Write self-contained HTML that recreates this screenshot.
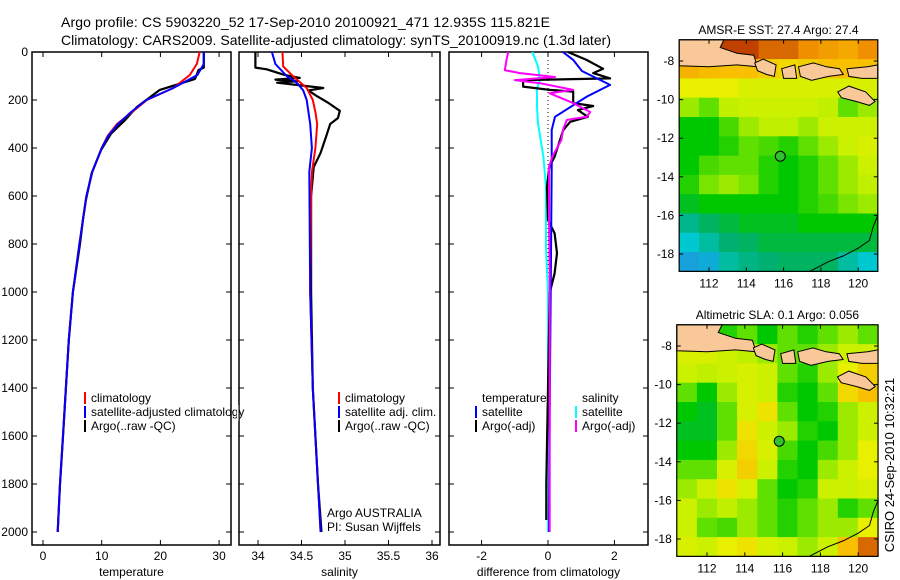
<!DOCTYPE html>
<html><head><meta charset="utf-8"><style>
html,body{margin:0;padding:0;background:#fff;}
svg{display:block;font-family:"Liberation Sans",sans-serif;}
</style></head><body>
<svg id="fig" width="900" height="580" viewBox="0 0 900 580">
<text x="61" y="27" font-size="14" textLength="489">Argo profile: CS 5903220_52 17-Sep-2010 20100921_471 12.935S 115.821E</text>
<text x="61" y="45" font-size="14" textLength="550">Climatology: CARS2009. Satellite-adjusted climatology: synTS_20100919.nc (1.3d later)</text>
<g id="g"></g>
<text transform="translate(894,465) rotate(-90)" text-anchor="middle" font-size="13">CSIRO 24-Sep-2010 10:32:21</text>
</svg>
<script>
// ---------- data ----------
const depthTicks=[0,200,400,600,800,1000,1200,1400,1600,1800,2000];
const tempTicks=[0,10,20,30];
const salTicks=[34,34.5,35,35.5,36];
const salTickLabels=["34","34.5","35","35.5","36"];
const diffTicks=[-2,0,2];
const tArgoDepth=[0,65,75,112,158,229,283,340,408,504,617,700,800,1000,1200,1400,1600,1800,2000];
const tArgo=[27.4,27.4,26.5,25.9,19.9,16,14,11.6,9.9,8.3,7.3,6.8,6.3,5.1,4.4,3.9,3.4,2.9,2.5];
const tClimDepth=[0,50,96,150,200,250,300,350,400,500,600,700,800,1000,1200,1400,1600,1800,2000];
const tClim=[26.7,26.2,25,22.2,17.7,15.2,12.6,11,10,8.4,7.4,6.8,6.2,5.1,4.4,3.9,3.4,2.9,2.5];
const tSat=[27.4,27.4,26.3,22.2,17.6,15,12.8,11.1,10,8.4,7.4,6.8,6.2,5.1,4.4,3.9,3.4,2.9,2.5];
const sArgoDepth=[0,65,72,95,108,115,122,128,150,160,180,210,245,275,300,355,420,480,600,1000,1400,1800,2000];
const sArgo=[33.97,33.97,34.1,34.3,34.48,34.2,34.45,34.22,34.75,34.58,34.66,34.8,34.94,34.92,34.83,34.78,34.72,34.64,34.61,34.61,34.63,34.69,34.73];
const sClimDepth=[0,60,100,150,200,250,300,400,500,600,1000,1400,1800,2000];
const sClim=[34.28,34.29,34.4,34.56,34.63,34.66,34.68,34.66,34.62,34.61,34.6,34.63,34.69,34.72];
const sSatDepth=[0,50,100,130,160,200,300,400,500,1000,1400,1800,2000];
const sSat=[34.16,34.2,34.33,34.45,34.52,34.56,34.6,34.62,34.59,34.6,34.63,34.69,34.72];
const dTArgoDepth=[0,33,70,88,110,117,144,158,165,213,225,242,270,291,325,367,436,479,562,700,755,838,922,1004,1400,1800,1950];
const dTArgo=[0.6,1.16,1.66,1.36,1.87,-0.75,-0.75,0.05,0.76,0.76,1.36,0.9,1.2,0.67,0.46,0.36,0.2,0.04,-0.03,0,0.2,0.27,0.2,0.05,0,-0.05,-0.05];
const dTSatDepth=[0,33,79,137,186,270,325,479,1000,1500,2000];
const dTSat=[0.45,0.76,1.02,1.87,1.17,0.21,0.11,0.11,0.08,0.05,0.03];
const dSArgoDepth=[0,33,76,88,104,117,130,158,172,213,250,270,283,320,367,436,479,700,922,1400,2000];
const dSArgo=[-1.2,-1.25,-1.3,-0.84,0.21,-1,-0.24,0.76,0.05,0.76,1.27,1.17,0.57,0.46,0.4,0.13,0.03,0.03,0.05,0.05,0.05];
const dSSatDepth=[0,60,117,151,229,297,436,562,813,1004,1500,2000];
const dSSat=[-0.47,-0.3,-0.24,-0.33,-0.33,-0.3,-0.14,-0.06,-0.06,0,0,0];
const lonTicks=[112,114,116,118,120];
const latTicks=[-8,-10,-12,-14,-16,-18];
const sstGrid=[
[0.95,0.95,0.95,0.95,0.9,0.9,0.85,0.82,0.8,0.85],
[0.78,0.76,0.75,0.75,0.72,0.7,0.72,0.75,0.75,0.75],
[0.65,0.65,0.65,0.62,0.62,0.62,0.62,0.62,0.62,0.62],
[0.55,0.5,0.58,0.6,0.6,0.6,0.6,0.58,0.5,0.55],
[0.42,0.42,0.48,0.55,0.58,0.58,0.55,0.6,0.6,0.6],
[0.42,0.42,0.45,0.5,0.48,0.45,0.5,0.55,0.6,0.62],
[0.42,0.48,0.5,0.5,0.45,0.42,0.45,0.5,0.55,0.6],
[0.45,0.52,0.55,0.52,0.45,0.42,0.45,0.5,0.55,0.58],
[0.4,0.42,0.42,0.42,0.42,0.42,0.45,0.48,0.52,0.55],
[0.32,0.36,0.38,0.4,0.4,0.4,0.42,0.42,0.42,0.42],
[0.25,0.3,0.35,0.36,0.38,0.38,0.38,0.38,0.38,0.38],
[0.18,0.2,0.3,0.33,0.35,0.36,0.36,0.36,0.3,0.25]];
const slaGrid=[
[0.45,0.5,0.45,0.5,0.42,0.5,0.45,0.5,0.55,0.5],
[0.62,0.62,0.6,0.58,0.55,0.5,0.5,0.55,0.6,0.6],
[0.6,0.58,0.6,0.62,0.6,0.5,0.45,0.55,0.65,0.72],
[0.5,0.42,0.55,0.62,0.6,0.45,0.42,0.5,0.7,0.75],
[0.42,0.4,0.5,0.62,0.68,0.5,0.42,0.45,0.55,0.6],
[0.4,0.4,0.5,0.68,0.6,0.55,0.45,0.42,0.55,0.6],
[0.42,0.42,0.55,0.7,0.62,0.48,0.42,0.48,0.55,0.65],
[0.5,0.5,0.62,0.72,0.6,0.45,0.42,0.55,0.6,0.65],
[0.55,0.6,0.68,0.62,0.5,0.42,0.45,0.6,0.6,0.62],
[0.6,0.55,0.58,0.55,0.5,0.45,0.5,0.55,0.45,0.5],
[0.6,0.5,0.48,0.55,0.5,0.45,0.5,0.55,0.55,0.65],
[0.62,0.6,0.65,0.68,0.62,0.6,0.55,0.6,0.75,0.9]];
const argoLon=115.821, argoLat=-12.935;

// ---------- helpers ----------
const NS="http://www.w3.org/2000/svg";
const G=document.getElementById('g');
function mk(tag,attrs,parent){const e=document.createElementNS(NS,tag);for(const k in attrs)e.setAttribute(k,attrs[k]);(parent||G).appendChild(e);return e;}
const TOP=52, BOT=545;
const yD=d=>TOP+d*0.24;
const panels=[
 {x0:32,x1:231,ax:v=>43+v*5.87,ticks:tempTicks,labels:tempTicks.map(String),xl:"temperature",name:"temperature-panel"},
 {x0:239,x1:440,ax:v=>258+(v-34)*87,ticks:salTicks,labels:salTickLabels,xl:"salinity",name:"salinity-panel"},
 {x0:449,x1:648,ax:v=>548+v*33.2,ticks:diffTicks,labels:diffTicks.map(String),xl:"difference from climatology",name:"difference-panel"}];
panels.forEach((p,i)=>{
 const g=mk('g',{});
 
 
 mk('rect',{x:p.x0,y:TOP,width:p.x1-p.x0,height:BOT-TOP,fill:'none',stroke:'#000','stroke-width':1.5},g);
 depthTicks.forEach(d=>{const y=yD(d);
  mk('line',{x1:p.x0,x2:p.x0+5,y1:y,y2:y,stroke:'#000'},g);
  mk('line',{x1:p.x1-5,x2:p.x1,y1:y,y2:y,stroke:'#000'},g);
  if(i===0){const t=mk('text',{x:28,y:y+4,'font-size':12,'text-anchor':'end'},g);t.textContent=d;
   
   }
 });
 p.ticks.forEach((v,j)=>{const x=p.ax(v);
  mk('line',{x1:x,x2:x,y1:BOT,y2:BOT-5,stroke:'#000'},g);
  mk('line',{x1:x,x2:x,y1:TOP,y2:TOP+5,stroke:'#000'},g);
  const t=mk('text',{x:x,y:560,'font-size':12,'text-anchor':'middle'},g);t.textContent=p.labels[j];
  
  
 });
 const t=mk('text',{x:(p.x0+p.x1)/2,y:576,'font-size':12,'text-anchor':'middle'},g);t.textContent=p.xl;
 
 
});
function line(depths,vals,ax,color,w,name){
 const pts=depths.map((d,k)=>ax(vals[k]).toFixed(1)+','+yD(d).toFixed(1)).join(' ');
 const e=mk('polyline',{points:pts,fill:'none',stroke:color,'stroke-width':w,'stroke-linejoin':'round'});
 
 
}
const [P1,P2,P3]=panels;
line(tArgoDepth,tArgo,P1.ax,'#000',2.2,'temperature-argo-line');
line(tClimDepth,tClim,P1.ax,'#f00',2,'temperature-climatology-line');
line(tClimDepth,tSat,P1.ax,'#00f',2,'temperature-satellite-line');
line(sArgoDepth,sArgo,P2.ax,'#000',2.2,'salinity-argo-line');
line(sClimDepth,sClim,P2.ax,'#f00',2,'salinity-climatology-line');
line(sSatDepth,sSat,P2.ax,'#00f',2,'salinity-satellite-line');
mk('line',{x1:P3.ax(0),x2:P3.ax(0),y1:TOP,y2:yD(1000),stroke:'#000','stroke-dasharray':'1,3'});
line(dSSatDepth,dSSat,P3.ax,'#0ff',2,'diff-salinity-satellite-line');
line(dTArgoDepth,dTArgo,P3.ax,'#000',2.2,'diff-temperature-argo-line');
line(dTSatDepth,dTSat,P3.ax,'#00f',2,'diff-temperature-satellite-line');
line(dSArgoDepth,dSArgo,P3.ax,'#f0f',2,'diff-salinity-argo-line');

function legend(x,y,color,text,name){
 const g=mk('g',{});
 
 
 if(color)mk('rect',{x:x-7,y:y-10,width:2,height:12,fill:color},g);
 const t=mk('text',{x:x,y:y,'font-size':12},g);t.textContent=text;
}
legend(91,402,'#f00','climatology','legend-climatology');
legend(91,416,'#00f','satellite-adjusted climatology','legend-satellite-adjusted');
legend(91,430,'#000','Argo(..raw -QC)','legend-argo');
legend(345,402,'#f00','climatology','legend-sal-climatology');
legend(345,416,'#00f','satellite adj. clim.','legend-sal-satellite');
legend(345,430,'#000','Argo(..raw -QC)','legend-sal-argo');
legend(482,402,null,'temperature','legend-temperature-header');
legend(482,416,'#00f','satellite','legend-temp-satellite');
legend(482,430,'#000','Argo(-adj)','legend-temp-argo');
legend(582,402,null,'salinity','legend-salinity-header');
legend(582,416,'#0ff','satellite','legend-sal-sat');
legend(582,430,'#f0f','Argo(-adj)','legend-sal-argo-adj');
legend(327,517,null,'Argo AUSTRALIA','argo-country');
legend(327,531,null,'PI: Susan Wijffels','pi-name');
mk('rect',{x:237,y:405,width:1.5,height:16,fill:'#fff'});

// ---------- maps ----------
const stops=[[0.15,[32,144,224]],[0.25,[0,200,208]],[0.35,[0,176,112]],[0.42,[0,200,0]],[0.5,[96,224,0]],[0.58,[192,240,0]],[0.65,[232,240,0]],[0.75,[248,192,0]],[0.85,[240,144,0]],[0.95,[192,64,0]],[1,[160,16,0]]];
function cmap(v){for(let i=1;i<stops.length;i++){if(v<=stops[i][0]){const a=stops[i-1],b=stops[i];const f=Math.max(0,(v-a[0])/(b[0]-a[0]));const c=a[1].map((q,k)=>Math.round(q+(b[1][k]-q)*f));return `rgb(${c})`;}}return 'rgb(160,16,0)';}
function map(m){
 const g=mk('g',{});
 
 
 const lonX=l=>m.x112+(l-112)*m.sx, latY=a=>m.y8+(-8-a)*m.sy;
 const L0=110.4,L1=121.05,A0=-6.9,A1=-18.9;
 const nr=m.grid.length,nc=m.grid[0].length;
 const cw=(L1-L0)/nc, ch=(A0-A1)/nr;
 m.grid.forEach((row,r)=>row.forEach((v,c)=>{
  const x=lonX(L0+c*cw),y=latY(A0-r*ch);
  const cell=mk('rect',{x:x.toFixed(1),y:y.toFixed(1),width:(cw*m.sx+0.6).toFixed(1),height:(ch*m.sy+0.6).toFixed(1),fill:cmap(v)},g);
  
  
 }));
 const X0=lonX(L0),X1=lonX(L1),Y0=latY(A0),Y1=latY(A1);
 const land=(pts)=>{const e=mk('polygon',{points:pts.map(p=>lonX(p[0]).toFixed(1)+','+latY(p[1]).toFixed(1)).join(' '),fill:'#f8c898',stroke:'#000','stroke-width':1},g);
  
  };
 land([[110.4,-6.9],[112.8,-6.9],[112.6,-7.3],[113.5,-7.6],[114.4,-7.7],[114.6,-8.3],[113.5,-8.2],[112,-8.3],[110.4,-8.25]]);
 land([[114.45,-8.1],[114.9,-7.9],[115.6,-8.2],[115.5,-8.8],[115.1,-8.7],[114.6,-8.5]]);
 land([[115.9,-8.4],[116.6,-8.2],[116.7,-8.9],[116.0,-8.9]]);
 land([[116.8,-8.3],[117.6,-8.1],[118.3,-8.3],[119.0,-8.4],[119.2,-8.7],[118.4,-8.8],[117.5,-9.0],[116.9,-8.8]]);
 land([[119.4,-8.4],[120.5,-8.3],[121.05,-8.2],[121.05,-8.9],[120.2,-8.9],[119.5,-8.8]]);
 land([[118.9,-9.6],[119.5,-9.3],[120.4,-9.6],[120.9,-10.1],[120.6,-10.3],[119.9,-10.1],[119.1,-9.9]]);
 const coast=mk('polyline',{points:[[121.05,-16.0],[120.8,-16.6],[120.6,-17.3],[120,-17.7],[119.2,-18.1],[118.4,-18.4],[117.4,-18.9]].map(p=>lonX(p[0]).toFixed(1)+','+latY(p[1]).toFixed(1)).join(' '),fill:'none',stroke:'#000','stroke-width':1},g);
 
 
 const mk2=mk('circle',{cx:lonX(argoLon),cy:latY(argoLat),r:5,fill:'#30c030',stroke:'#000','stroke-width':1},g);
 
 
 mk('rect',{x:X0,y:Y0,width:X1-X0,height:Y1-Y0,fill:'none',stroke:'#000','stroke-width':1.2},g);
 lonTicks.forEach(l=>{const x=lonX(l);
  mk('line',{x1:x,x2:x,y1:Y1,y2:Y1-4,stroke:'#000'},g);mk('line',{x1:x,x2:x,y1:Y0,y2:Y0+4,stroke:'#000'},g);
  const t=mk('text',{x:x,y:Y1+16,'font-size':12,'text-anchor':'middle'},g);t.textContent=l;
  
  });
 latTicks.forEach(a=>{const y=latY(a);
  mk('line',{x1:X0,x2:X0+4,y1:y,y2:y,stroke:'#000'},g);mk('line',{x1:X1-4,x2:X1,y1:y,y2:y,stroke:'#000'},g);
  const t=mk('text',{x:X0-5,y:y+4,'font-size':12,'text-anchor':'end'},g);t.textContent=a;
  
  });
 const t=mk('text',{x:(X0+X1)/2,y:Y0-6,'font-size':12,'text-anchor':'middle'},g);t.textContent=m.title;
 
 
}
map({name:'sst-map',grid:sstGrid,x112:709,sx:18.65,y8:61,sy:19.3,title:'AMSR-E SST: 27.4 Argo: 27.4'});
map({name:'sla-map',grid:slaGrid,x112:707,sx:18.9,y8:346,sy:19.3,title:'Altimetric SLA: 0.1 Argo: 0.056'});
</script>
</body></html>
